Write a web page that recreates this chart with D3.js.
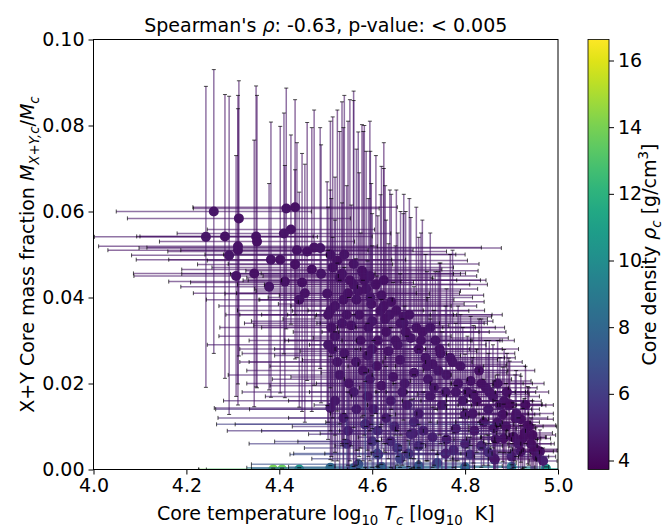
<!DOCTYPE html>
<html>
<head>
<meta charset="utf-8">
<script src="https://cdn.jsdelivr.net/npm/d3@7"></script>
<style>
body { margin: 0; background: #fff; }
text { font-family: "DejaVu Sans", sans-serif; white-space: pre; }
</style>
</head>
<body>
<div id="chart"></div>
<script>
// core temperature (log10 K)
var logT = [
  4.259,4.313,4.242,4.283,4.350,4.352,4.415,4.434,4.425,4.410,
  4.311,4.311,4.292,4.382,4.402,4.438,4.460,4.475,4.488,4.434,
  4.510,4.307,4.346,4.378,4.412,4.449,4.443,4.503,4.525,4.581,
  4.530,4.560,4.570,4.538,4.587,4.598,4.618,4.545,4.555,4.600,
  4.620,4.641,4.661,4.683,4.667,4.695,4.650,4.630,4.575,4.520,
  4.505,4.540,4.565,4.590,4.610,4.635,4.660,4.700,4.715,4.730,
  4.747,4.736,4.773,4.760,4.720,4.690,4.670,4.645,4.620,4.595,
  4.538,4.560,4.585,4.603,4.640,4.675,4.700,4.725,4.750,4.780,
  4.800,4.812,4.816,4.830,4.845,4.860,4.881,4.884,4.894,4.896,
  4.920,4.935,4.937,4.862,4.883,4.903,4.905,4.924,4.866,4.920,
  4.948,4.952,4.961,4.864,4.862,4.800,4.820,4.840,4.780,4.760,
  4.683,4.585,4.613,4.570,4.678,4.611,4.654,4.688,4.758,4.545,
  4.387,4.406,4.443,4.974,4.510,4.620,4.700,4.800,4.900,4.560,
  4.548,4.572,4.592,4.612,4.628,4.655,4.672,4.705,4.725,4.742,
  4.790,4.805,4.825,4.850,4.870,4.890,4.910,4.930,4.945,4.870,
  4.505,4.512,4.520,4.535,4.515,4.525,4.530,4.550,4.580,4.600,
  4.510,4.510,
  4.552,4.566,4.583,4.596,4.608,4.625,4.638,4.652,4.668,4.680,
  4.708,4.718,4.733,4.745,4.758,4.768,4.785,4.795,4.818,4.835,
  4.520,4.548,4.566,4.590,4.612,4.630,4.648,4.665,4.690,4.710,
  4.852,4.875,4.888,4.908,4.915,4.928,4.942,4.955,4.968,4.900,
  4.515,4.535,4.560,4.578,4.595,4.490,4.470,4.455,4.540,4.625,
  4.640,4.700,4.730,4.775,4.810,4.835,4.850,4.600,4.660,4.740
];
// X+Y core mass fraction
var frac = [
  0.0600,0.0584,0.0541,0.0542,0.0542,0.0530,0.0607,0.0610,0.0558,0.0549,
  0.0519,0.0510,0.0498,0.0488,0.0488,0.0510,0.0507,0.0516,0.0515,0.0477,
  0.0500,0.0450,0.0456,0.0425,0.0437,0.0435,0.0395,0.0409,0.0486,0.0456,
  0.0446,0.0430,0.0415,0.0395,0.0420,0.0385,0.0369,0.0360,0.0335,0.0345,
  0.0405,0.0390,0.0340,0.0306,0.0355,0.0330,0.0300,0.0320,0.0300,0.0380,
  0.0290,0.0270,0.0250,0.0265,0.0240,0.0275,0.0255,0.0280,0.0260,0.0245,
  0.0270,0.0300,0.0250,0.0220,0.0210,0.0225,0.0200,0.0215,0.0195,0.0210,
  0.0120,0.0180,0.0105,0.0140,0.0160,0.0150,0.0130,0.0170,0.0150,0.0180,
  0.0128,0.0206,0.0130,0.0230,0.0190,0.0170,0.0128,0.0159,0.0149,0.0152,
  0.0117,0.0103,0.0100,0.0096,0.0072,0.0075,0.0075,0.0072,0.0070,0.0042,
  0.0044,0.0047,0.0042,0.0023,0.0026,0.0060,0.0090,0.0110,0.0095,0.0070,
  0.0082,0.0105,0.0035,0.0012,0.0037,0.0037,0.0050,0.0084,0.0037,0.0060,
  0.0000,0.0000,0.0000,0.0002,0.0004,0.0006,0.0008,0.0005,0.0006,0.0003,
  0.0410,0.0360,0.0330,0.0300,0.0350,0.0290,0.0320,0.0300,0.0330,0.0230,
  0.0240,0.0180,0.0160,0.0140,0.0200,0.0180,0.0130,0.0150,0.0080,0.0110,
  0.0360,0.0330,0.0310,0.0340,0.0280,0.0250,0.0220,0.0200,0.0230,0.0280,
  0.0370,0.0143,
  0.0440,0.0395,0.0440,0.0400,0.0430,0.0380,0.0360,0.0370,0.0340,0.0360,
  0.0320,0.0240,0.0190,0.0280,0.0180,0.0260,0.0200,0.0160,0.0175,0.0200,
  0.0160,0.0090,0.0140,0.0170,0.0090,0.0120,0.0100,0.0180,0.0110,0.0090,
  0.0180,0.0150,0.0100,0.0120,0.0060,0.0085,0.0060,0.0030,0.0020,0.0030,
  0.0470,0.0455,0.0478,0.0462,0.0450,0.0455,0.0465,0.0410,0.0500,0.0440,
  0.0065,0.0055,0.0075,0.0045,0.0035,0.0055,0.0040,0.0065,0.0025,0.0015
];
var logTErr = [
  0.21,0.24,0.24,0.19,0.25,0.21,0.20,0.22,0.18,0.23,
  0.30,0.28,0.21,0.29,0.24,0.25,0.30,0.36,0.39,0.21,
  0.27,0.22,0.26,0.19,0.25,0.24,0.20,0.22,0.28,0.22,
  0.20,0.25,0.22,0.18,0.24,0.20,0.19,0.23,0.21,0.26,
  0.22,0.20,0.18,0.21,0.19,0.17,0.23,0.20,0.24,0.25,
  0.26,0.22,0.25,0.20,0.23,0.19,0.21,0.18,0.17,0.16,
  0.16,0.17,0.15,0.16,0.18,0.20,0.19,0.22,0.24,0.21,
  0.27,0.24,0.32,0.34,0.22,0.20,0.19,0.17,0.16,0.15,
  0.15,0.13,0.12,0.12,0.11,0.10,0.08,0.08,0.08,0.07,
  0.07,0.06,0.06,0.09,0.08,0.07,0.07,0.06,0.09,0.07,
  0.05,0.05,0.04,0.09,0.09,0.12,0.11,0.10,0.13,0.14,
  0.22,0.28,0.19,0.23,0.18,0.18,0.20,0.20,0.16,0.21,
  0.16,0.18,0.20,0.05,0.18,0.20,0.18,0.15,0.08,0.22,
  0.24,0.21,0.23,0.20,0.22,0.19,0.18,0.17,0.16,0.15,
  0.14,0.13,0.12,0.11,0.10,0.09,0.08,0.06,0.05,0.09,
  0.22,0.24,0.25,0.21,0.20,0.19,0.24,0.22,0.25,0.21,
  0.20,0.25,
  0.23,0.21,0.25,0.22,0.24,0.20,0.22,0.19,0.18,0.20,
  0.18,0.17,0.16,0.17,0.15,0.14,0.14,0.13,0.12,0.11,
  0.24,0.26,0.23,0.22,0.25,0.21,0.22,0.20,0.19,0.18,
  0.10,0.09,0.08,0.07,0.07,0.06,0.05,0.04,0.03,0.08,
  0.26,0.24,0.27,0.25,0.23,0.30,0.28,0.24,0.26,0.22,
  0.20,0.18,0.16,0.15,0.13,0.12,0.11,0.21,0.19,0.17
];
var fracErr = [
  0.033,0.032,0.035,0.033,0.035,0.034,0.028,0.025,0.022,0.028,
  0.032,0.036,0.037,0.032,0.031,0.025,0.030,0.032,0.028,0.022,
  0.031,0.028,0.031,0.024,0.027,0.030,0.025,0.026,0.035,0.033,
  0.034,0.045,0.037,0.040,0.032,0.028,0.027,0.030,0.028,0.025,
  0.030,0.025,0.026,0.028,0.024,0.028,0.022,0.026,0.025,0.030,
  0.022,0.020,0.024,0.022,0.021,0.025,0.020,0.026,0.024,0.020,
  0.021,0.016,0.026,0.020,0.019,0.020,0.018,0.022,0.020,0.019,
  0.014,0.018,0.012,0.016,0.017,0.016,0.015,0.018,0.017,0.016,
  0.014,0.015,0.013,0.012,0.011,0.012,0.011,0.012,0.011,0.010,
  0.010,0.009,0.009,0.011,0.008,0.008,0.007,0.007,0.009,0.006,
  0.006,0.005,0.005,0.004,0.004,0.008,0.009,0.010,0.010,0.008,
  0.008,0.010,0.003,0.001,0.003,0.003,0.004,0.008,0.004,0.006,
  0.0003,0.0003,0.0004,0.0004,0.0005,0.0006,0.0007,0.0005,0.0005,0.0004,
  0.040,0.033,0.030,0.029,0.031,0.026,0.028,0.025,0.022,0.023,
  0.012,0.013,0.012,0.013,0.010,0.009,0.010,0.009,0.008,0.011,
  0.025,0.030,0.027,0.028,0.026,0.023,0.022,0.020,0.021,0.024,
  0.028,0.012,
  0.042,0.035,0.036,0.034,0.030,0.032,0.029,0.028,0.030,0.027,
  0.026,0.022,0.018,0.020,0.020,0.024,0.018,0.017,0.016,0.015,
  0.016,0.009,0.014,0.017,0.009,0.012,0.010,0.017,0.011,0.009,
  0.012,0.011,0.010,0.010,0.006,0.008,0.006,0.004,0.003,0.003,
  0.035,0.040,0.038,0.034,0.036,0.030,0.033,0.030,0.037,0.032,
  0.006,0.005,0.007,0.004,0.004,0.005,0.004,0.006,0.002,0.002
];
// core density (g/cm^3)
var rho = [
  4.5,4.4,4.5,4.3,4.4,4.3,4.4,4.3,4.4,4.5,
  4.4,4.3,4.5,4.4,4.3,4.4,4.3,4.4,4.5,4.3,
  4.4,4.4,4.3,4.5,4.4,4.3,4.5,4.4,4.3,4.4,
  4.3,4.4,4.5,4.3,4.4,4.3,4.5,4.4,4.3,4.6,
  4.4,4.3,4.5,4.4,4.3,4.4,4.5,4.3,4.4,4.5,
  4.6,4.5,4.4,4.7,4.3,4.5,4.4,4.3,4.5,4.4,
  4.3,4.4,4.5,4.4,4.6,4.5,4.7,4.4,4.5,4.6,
  5.0,4.8,6.2,5.4,4.7,4.8,5.0,4.6,4.7,4.5,
  4.6,4.4,4.5,4.3,4.4,4.5,4.3,4.4,4.3,4.2,
  4.2,4.1,4.2,4.4,4.3,4.2,4.3,4.2,4.5,4.2,
  4.1,4.2,4.1,4.3,4.5,4.8,4.4,4.3,4.6,4.7,
  5.3,6.2,6.8,7.0,6.5,6.6,6.0,5.0,4.8,5.8,
  14.0,13.7,11.0,10.5,8.5,8.0,7.5,8.2,9.0,7.8,
  4.3,4.4,4.5,4.3,4.4,4.5,4.3,4.4,4.5,4.6,
  4.4,4.5,4.3,4.6,4.4,4.3,4.5,4.2,4.2,4.4,
  4.4,4.3,4.5,4.4,4.6,4.5,4.7,4.6,4.5,4.4,
  4.5,4.8,
  4.3,4.5,4.4,4.6,4.3,4.4,4.5,4.3,4.6,4.4,
  4.4,4.5,4.6,4.3,4.7,4.4,4.5,4.6,4.4,4.3,
  4.8,5.2,4.9,4.6,5.5,5.0,5.3,4.7,5.1,5.2,
  4.4,4.5,4.3,4.6,4.5,4.4,4.3,4.6,4.8,5.0,
  4.3,4.4,4.5,4.3,4.4,4.5,4.3,4.4,4.5,4.3,
  5.4,5.6,5.0,5.2,5.5,5.0,5.3,5.9,6.3,6.6
];

var xTicks = [4.0, 4.2, 4.4, 4.6, 4.8, 5.0];
var yTicks = [0.00, 0.02, 0.04, 0.06, 0.08, 0.10];
var cTicks = [4, 6, 8, 10, 12, 14, 16];
var rhoMin = 3.73, rhoMax = 16.63;

var width = 671,
    height = 527;
var plotL = 93.5, plotT = 39.5, plotW = 464.5, plotH = 430;
var fs = 19;

var svg = d3.select("#chart").append("svg")
    .attr("width", width)
    .attr("height", height);

var x = d3.scaleLinear().domain([4.0, 5.0]).range([plotL, plotL + plotW]);
var y = d3.scaleLinear().domain([0, 0.10]).range([plotT + plotH, plotT]);
var color = d3.scaleSequential(d3.interpolateViridis).domain([rhoMin, rhoMax]);

var defs = svg.append("defs");
defs.append("clipPath").attr("id", "clip").append("rect")
    .attr("x", plotL).attr("y", plotT).attr("width", plotW).attr("height", plotH);

var idx = d3.range(logT.length);
var g = svg.append("g").attr("clip-path", "url(#clip)");

// markers first, error bars drawn over them
g.selectAll("circle").data(idx).enter().append("circle")
    .attr("cx", function(i) { return x(logT[i]); })
    .attr("cy", function(i) { return y(frac[i]); })
    .attr("r", 5)
    .attr("fill", function(i) { return color(rho[i]); });

var bars = g.append("g").attr("stroke-width", 1.5).attr("stroke-opacity", 0.6);
bars.selectAll("line.h").data(idx).enter().append("line")
    .attr("class", "h")
    .attr("x1", function(i) { return x(logT[i] - logTErr[i]); })
    .attr("x2", function(i) { return x(logT[i] + logTErr[i]); })
    .attr("y1", function(i) { return y(frac[i]); })
    .attr("y2", function(i) { return y(frac[i]); })
    .attr("stroke", function(i) { return color(rho[i]); });
bars.selectAll("line.v").data(idx).enter().append("line")
    .attr("class", "v")
    .attr("x1", function(i) { return x(logT[i]); })
    .attr("x2", function(i) { return x(logT[i]); })
    .attr("y1", function(i) { return y(frac[i] - fracErr[i]); })
    .attr("y2", function(i) { return y(frac[i] + fracErr[i]); })
    .attr("stroke", function(i) { return color(rho[i]); });

// caps
var caps = g.append("g").attr("stroke", "#000").attr("stroke-width", 1).attr("stroke-opacity", 0.7);
[-1, 1].forEach(function(s) {
  caps.selectAll("line.hc" + (s + 1)).data(idx).enter().append("line")
      .attr("class", "hc" + (s + 1))
      .attr("x1", function(i) { return x(logT[i] + s * logTErr[i]); })
      .attr("x2", function(i) { return x(logT[i] + s * logTErr[i]); })
      .attr("y1", function(i) { return y(frac[i]) - 2; })
      .attr("y2", function(i) { return y(frac[i]) + 2; });
  caps.selectAll("line.vc" + (s + 1)).data(idx).enter().append("line")
      .attr("class", "vc" + (s + 1))
      .attr("x1", function(i) { return x(logT[i]) - 2; })
      .attr("x2", function(i) { return x(logT[i]) + 2; })
      .attr("y1", function(i) { return y(frac[i] + s * fracErr[i]); })
      .attr("y2", function(i) { return y(frac[i] + s * fracErr[i]); });
});

// frame
svg.append("rect")
    .attr("x", plotL).attr("y", plotT).attr("width", plotW).attr("height", plotH)
    .attr("fill", "none").attr("stroke", "#000").attr("stroke-width", 1);

var xAxis = svg.append("g")
    .attr("transform", "translate(0," + (plotT + plotH) + ")")
    .call(d3.axisBottom(x).tickValues(xTicks).tickFormat(d3.format(".1f")).tickSize(5).tickPadding(4));
var yAxis = svg.append("g")
    .attr("transform", "translate(" + plotL + ",0)")
    .call(d3.axisLeft(y).tickValues(yTicks).tickFormat(d3.format(".2f")).tickSize(5).tickPadding(4));
[xAxis, yAxis].forEach(function(a) {
  a.select(".domain").remove();
  a.selectAll("text").attr("font-size", fs).attr("font-family", "DejaVu Sans").attr("fill", "#000");
});

// colorbar
var cbL = 588, cbW = 21;
var grad = defs.append("linearGradient").attr("id", "viridis")
    .attr("x1", 0).attr("y1", 1).attr("x2", 0).attr("y2", 0);
d3.range(0, 1.0001, 0.05).forEach(function(t) {
  grad.append("stop").attr("offset", t).attr("stop-color", d3.interpolateViridis(t));
});
svg.append("rect")
    .attr("x", cbL).attr("y", plotT).attr("width", cbW).attr("height", plotH)
    .attr("fill", "url(#viridis)").attr("stroke", "#000").attr("stroke-width", 0.8);
var cy = d3.scaleLinear().domain([rhoMin, rhoMax]).range([plotT + plotH, plotT]);
var cAxis = svg.append("g")
    .attr("transform", "translate(" + (cbL + cbW) + ",0)")
    .call(d3.axisRight(cy).tickValues(cTicks).tickSize(5).tickPadding(4));
cAxis.select(".domain").remove();
cAxis.selectAll("text").attr("font-size", fs).attr("font-family", "DejaVu Sans").attr("fill", "#000");

// mathtext-ish labels
function addParts(t, parts) {
  var shift = 0;
  parts.forEach(function(p) {
    var target = p.sub ? fs * 0.28 : (p.sup ? -fs * 0.4 : 0);
    t.append("tspan")
        .attr("dy", target - shift)
        .attr("font-size", (p.sub || p.sup) ? fs * 0.7 : fs)
        .attr("font-style", p.it ? "italic" : "normal")
        .text(p.t);
    shift = target;
  });
}

var title = svg.append("text")
    .attr("x", plotL + plotW / 2).attr("y", 32)
    .attr("text-anchor", "middle").attr("font-size", fs);
addParts(title, [{t: "Spearman's "}, {t: "ρ", it: true}, {t: ": -0.63, p-value: < 0.005"}]);

var xl = svg.append("text")
    .attr("x", plotL + plotW / 2).attr("y", 520)
    .attr("text-anchor", "middle").attr("font-size", fs);
addParts(xl, [{t: "Core temperature log"}, {t: "10", sub: true}, {t: " "}, {t: "T", it: true},
  {t: "c", it: true, sub: true}, {t: " [log"}, {t: "10", sub: true}, {t: "  K]"}]);

var yl = svg.append("text")
    .attr("transform", "translate(34," + (plotT + plotH / 2) + ") rotate(-90)")
    .attr("text-anchor", "middle").attr("font-size", fs);
addParts(yl, [{t: "X+Y Core mass fraction "}, {t: "M", it: true}, {t: "X+Y,c", it: true, sub: true},
  {t: "/"}, {t: "M", it: true}, {t: "c", it: true, sub: true}]);

var cl = svg.append("text")
    .attr("transform", "translate(656," + (plotT + plotH / 2) + ") rotate(-90)")
    .attr("text-anchor", "middle").attr("font-size", fs);
addParts(cl, [{t: "Core density "}, {t: "ρ", it: true}, {t: "c", it: true, sub: true},
  {t: " [g/cm"}, {t: "3", sup: true}, {t: "]"}]);
</script>
</body>
</html>
